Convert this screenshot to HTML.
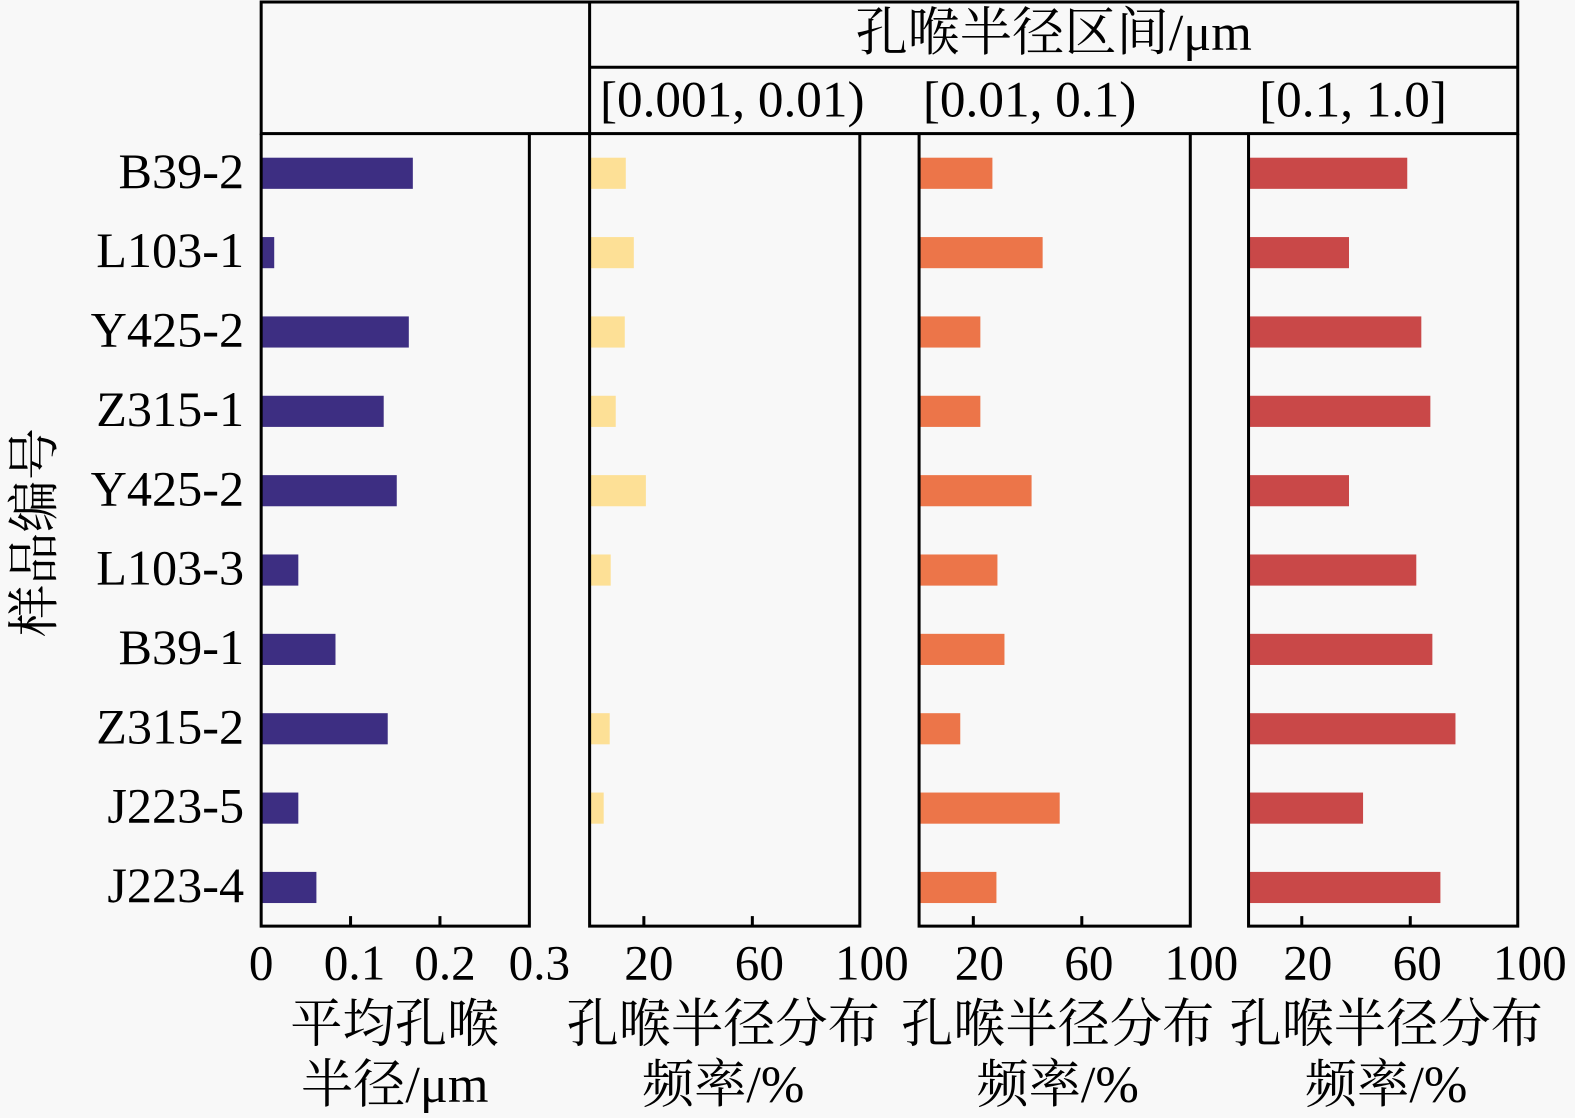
<!DOCTYPE html>
<html><head><meta charset="utf-8"><style>
html,body{margin:0;padding:0;background:#f8f8f8;}
svg{display:block;}
text{font-family:"Liberation Serif","Noto Serif CJK SC",serif;fill:#000;}
</style></head><body>
<svg width="1575" height="1118" viewBox="0 0 1568 1113" preserveAspectRatio="none" xmlns="http://www.w3.org/2000/svg">
<rect x="-5" y="-5" width="1580" height="1125" fill="#f8f8f8"/>
<g stroke="#000" stroke-width="3" fill="none">
<rect x="260" y="2" width="1251" height="131"/>
<line x1="587" y1="2" x2="587" y2="133"/>
<line x1="587" y1="67" x2="1511" y2="67"/>
</g>
<text x="1049" y="50" font-size="52" text-anchor="middle">孔喉半径区间/μm</text>
<text x="729" y="116" font-size="51" text-anchor="middle">[0.001, 0.01)</text>
<text x="1025" y="116" font-size="51" text-anchor="middle">[0.01, 0.1)</text>
<text x="1347" y="116" font-size="51" text-anchor="middle">[0.1, 1.0]</text>

<g fill="#3d2e82">
<rect x="260" y="157" width="151" height="31"/>
<rect x="260" y="236" width="13" height="31"/>
<rect x="260" y="315" width="147" height="31"/>
<rect x="260" y="394" width="122" height="31"/>
<rect x="260" y="473" width="135" height="31"/>
<rect x="260" y="552" width="37" height="31"/>
<rect x="260" y="631" width="74" height="31"/>
<rect x="260" y="710" width="126" height="31"/>
<rect x="260" y="789" width="37" height="31"/>
<rect x="260" y="868" width="55" height="31"/>
</g>
<g fill="#fde096">
<rect x="587" y="157" width="36" height="31"/>
<rect x="587" y="236" width="44" height="31"/>
<rect x="587" y="315" width="35" height="31"/>
<rect x="587" y="394" width="26" height="31"/>
<rect x="587" y="473" width="56" height="31"/>
<rect x="587" y="552" width="21" height="31"/>
<rect x="587" y="710" width="20" height="31"/>
<rect x="587" y="789" width="14" height="31"/>
</g>
<g fill="#ec7549">
<rect x="915" y="157" width="73" height="31"/>
<rect x="915" y="236" width="123" height="31"/>
<rect x="915" y="315" width="61" height="31"/>
<rect x="915" y="394" width="61" height="31"/>
<rect x="915" y="473" width="112" height="31"/>
<rect x="915" y="552" width="78" height="31"/>
<rect x="915" y="631" width="85" height="31"/>
<rect x="915" y="710" width="41" height="31"/>
<rect x="915" y="789" width="140" height="31"/>
<rect x="915" y="868" width="77" height="31"/>
</g>
<g fill="#c94848">
<rect x="1243" y="157" width="158" height="31"/>
<rect x="1243" y="236" width="100" height="31"/>
<rect x="1243" y="315" width="172" height="31"/>
<rect x="1243" y="394" width="181" height="31"/>
<rect x="1243" y="473" width="100" height="31"/>
<rect x="1243" y="552" width="167" height="31"/>
<rect x="1243" y="631" width="183" height="31"/>
<rect x="1243" y="710" width="206" height="31"/>
<rect x="1243" y="789" width="114" height="31"/>
<rect x="1243" y="868" width="191" height="31"/>
</g>

<g stroke="#000" stroke-width="3" fill="none">
<polyline points="260,133 260,922 527,922 527,133"/>
<polyline points="587,133 587,922 856,922 856,133"/>
<polyline points="915,133 915,922 1185,922 1185,133"/>
<polyline points="1243,133 1243,922 1511,922 1511,133"/>
<line x1="349" y1="922" x2="349" y2="912"/>
<line x1="438" y1="922" x2="438" y2="912"/>
<line x1="641" y1="922" x2="641" y2="912"/>
<line x1="749" y1="922" x2="749" y2="912"/>
<line x1="969" y1="922" x2="969" y2="912"/>
<line x1="1077" y1="922" x2="1077" y2="912"/>
<line x1="1296" y1="922" x2="1296" y2="912"/>
<line x1="1404" y1="922" x2="1404" y2="912"/>
</g>

<g font-size="50" text-anchor="end">
<text x="243" y="187">B39-2</text>
<text x="243" y="266">L103-1</text>
<text x="243" y="345">Y425-2</text>
<text x="243" y="424">Z315-1</text>
<text x="243" y="503">Y425-2</text>
<text x="243" y="582">L103-3</text>
<text x="243" y="661">B39-1</text>
<text x="243" y="740">Z315-2</text>
<text x="243" y="819">J223-5</text>
<text x="243" y="898">J223-4</text>
</g>
<text transform="translate(52,530) rotate(-90)" font-size="52" text-anchor="middle">样品编号</text>

<g font-size="49" text-anchor="middle">
<text x="260" y="975">0</text>
<text x="353" y="975">0.1</text>
<text x="443" y="975">0.2</text>
<text x="537" y="975">0.3</text>
<text x="646" y="975">20</text>
<text x="756" y="975">60</text>
<text x="868" y="975">100</text>
<text x="975" y="975">20</text>
<text x="1084" y="975">60</text>
<text x="1196" y="975">100</text>
<text x="1302" y="975">20</text>
<text x="1411" y="975">60</text>
<text x="1523" y="975">100</text>
</g>
<g font-size="52" text-anchor="middle">
<text x="393" y="1037">平均孔喉</text>
<text x="393" y="1097">半径/μm</text>
<text x="720" y="1037">孔喉半径分布</text>
<text x="720" y="1097">频率/%</text>
<text x="1053" y="1037">孔喉半径分布</text>
<text x="1053" y="1097">频率/%</text>
<text x="1380" y="1037">孔喉半径分布</text>
<text x="1380" y="1097">频率/%</text>
</g>
</svg>
</body></html>
